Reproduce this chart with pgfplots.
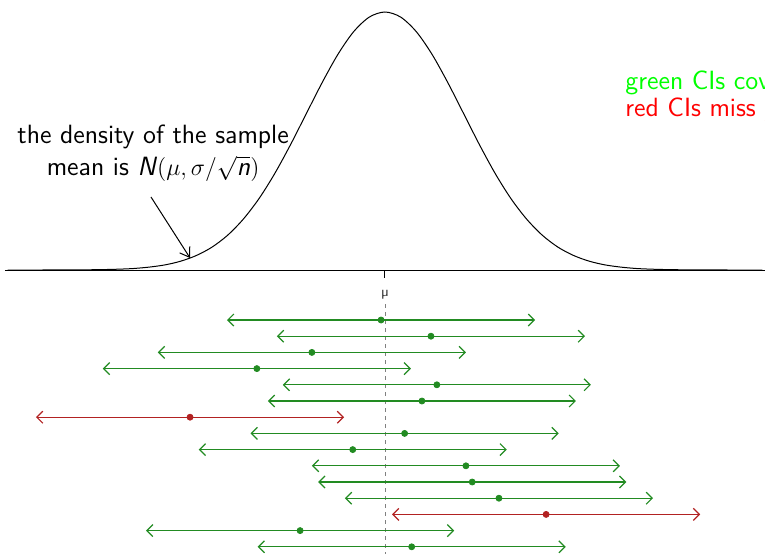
\documentclass[border=0pt]{standalone}
\usepackage{pgfplots}
\pgfplotsset{compat=1.18}
\usetikzlibrary{arrows.meta}
\renewcommand\familydefault{\sfdefault}
\definecolor{cigreen}{RGB}{34,139,34}
\definecolor{cired}{RGB}{178,34,34}

% density of the sample mean (x in units of sigma/sqrt(n), y in px)
\pgfplotstableread{
x y
-4.8 0.0
-4.4 0.0
-4.0 0.1
-3.8 0.2
-3.6 0.4
-3.4 0.8
-3.2 1.5
-3.0 2.9
-2.8 5.1
-2.6 8.8
-2.4 14.5
-2.2 22.9
-2.0 34.9
-1.8 51.1
-1.6 71.7
-1.4 96.8
-1.2 125.6
-1.0 156.5
-0.8 187.3
-0.6 215.5
-0.4 238.2
-0.2 252.9
0.0 258.0
0.2 252.9
0.4 238.2
0.6 215.5
0.8 187.3
1.0 156.5
1.2 125.6
1.4 96.8
1.6 71.7
1.8 51.1
2.0 34.9
2.2 22.9
2.4 14.5
2.6 8.8
2.8 5.1
3.0 2.9
3.2 1.5
3.4 0.8
3.6 0.4
3.8 0.2
4.0 0.1
4.4 0.0
4.8 0.0
}\density

% sample means: green = covers mu
\pgfplotstableread{
m y
-0.05 -50
0.585 -66.2
-0.93 -82.4
-1.63 -98.6
0.66 -114.8
0.47 -131
0.25 -163.4
-0.41 -179.6
1.03 -195.8
1.11 -212
1.45 -228.2
-1.08 -260.6
0.34 -276.8
}\covers
\pgfplotstableread{
m y
-2.48 -147.2
2.05 -244.4
}\misses

\begin{document}
\begin{tikzpicture}
\begin{axis}[
    name=ax,
    scale only axis,
    width=382.5pt, height=277pt,
    xmin=-4.898, xmax=4.835,
    ymin=-284, ymax=270,
    hide axis,
    clip=true,
    ci/.style={line width=0.6pt, {Straight Barb[length=3pt,width=6pt]}-{Straight Barb[length=3pt,width=6pt]}},
]
% mu reference
\draw[gray, dash pattern=on 2pt off 2pt, line width=0.4pt] (axis cs:0,-34) -- (axis cs:0,-284);
\draw[black, line width=0.5pt] (axis cs:-4.835,0) -- (axis cs:4.835,0);
\draw[black, line width=0.5pt] (axis cs:0,0) -- (axis cs:0,-8);
\node[font=\scriptsize, text=black!80, inner sep=0pt] at (axis cs:0,-25) {\textmu};

\addplot[black, line width=0.5pt, smooth] table[x=x, y=y] {\density};

% confidence intervals: mean +/- 1.96
\addplot[ci, cigreen] coordinates {(-2.01,-50) (1.91,-50)};
\addplot[ci, cigreen] coordinates {(-1.375,-66.2) (2.545,-66.2)};
\addplot[ci, cigreen] coordinates {(-2.89,-82.4) (1.03,-82.4)};
\addplot[ci, cigreen] coordinates {(-3.59,-98.6) (0.33,-98.6)};
\addplot[ci, cigreen] coordinates {(-1.30,-114.8) (2.62,-114.8)};
\addplot[ci, cigreen] coordinates {(-1.49,-131) (2.43,-131)};
\addplot[ci, cired] coordinates {(-4.44,-147.2) (-0.52,-147.2)};
\addplot[ci, cigreen] coordinates {(-1.71,-163.4) (2.21,-163.4)};
\addplot[ci, cigreen] coordinates {(-2.37,-179.6) (1.55,-179.6)};
\addplot[ci, cigreen] coordinates {(-0.93,-195.8) (2.99,-195.8)};
\addplot[ci, cigreen] coordinates {(-0.85,-212) (3.07,-212)};
\addplot[ci, cigreen] coordinates {(-0.51,-228.2) (3.41,-228.2)};
\addplot[ci, cired] coordinates {(0.09,-244.4) (4.01,-244.4)};
\addplot[ci, cigreen] coordinates {(-3.04,-260.6) (0.88,-260.6)};
\addplot[ci, cigreen] coordinates {(-1.62,-276.8) (2.30,-276.8)};

\addplot[only marks, mark=*, mark size=1.5pt, cigreen] table[x=m, y=y] {\covers};
\addplot[only marks, mark=*, mark size=1.5pt, cired] table[x=m, y=y] {\misses};

% annotations
\node[font=\fontsize{13.2}{16}\selectfont, align=center] at (axis cs:-2.95,116.5)
    {the density of the sample\\mean is $\textsf{\textit{N}}(\mu,\sigma/\sqrt{\textsf{\textit{n}}})$};
\draw[line width=0.5pt, -{Straight Barb[length=4.5pt,width=6pt]}] (axis cs:-2.977,73) -- (axis cs:-2.48,12);
\node[font=\fontsize{13.2}{13.5}\selectfont, align=left, anchor=west, inner sep=0pt] at (axis cs:3.053,174)
    {\textcolor[RGB]{0,255,0}{green CIs cover $\mu$}\\\textcolor[RGB]{255,0,0}{red CIs miss $\mu$}};
\end{axis}
\pgfresetboundingbox
\useasboundingbox (ax.south west) rectangle (ax.north east);
\end{tikzpicture}
\end{document}
